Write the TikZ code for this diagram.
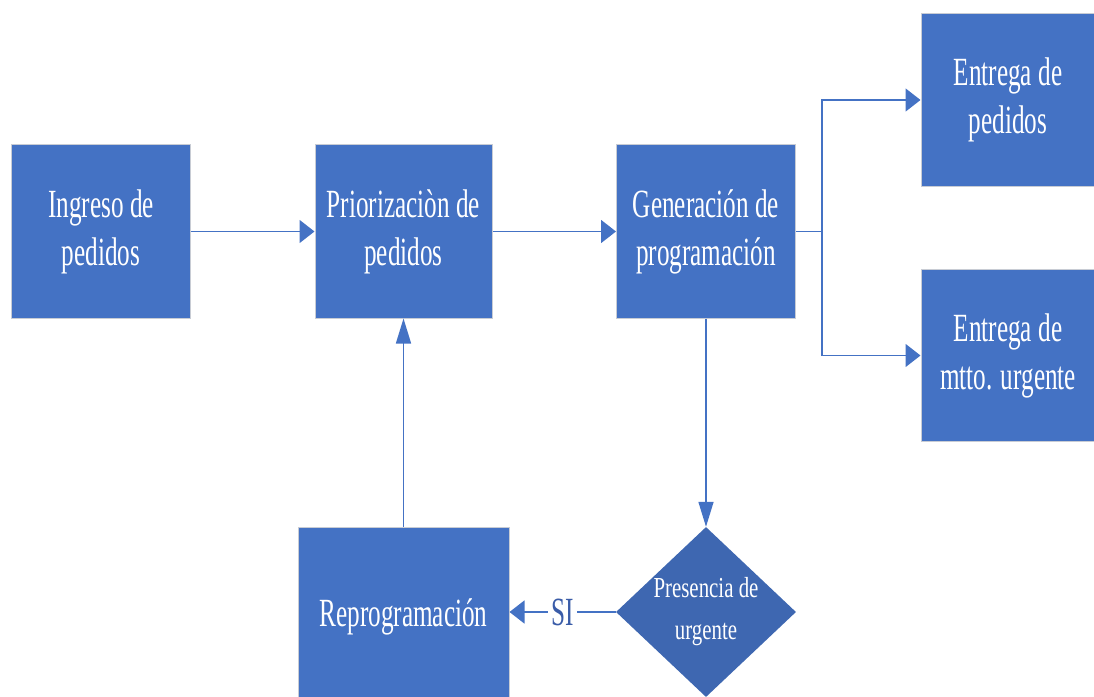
\documentclass[tikz,border=0pt]{standalone}
\usepackage{fontspec}
\usetikzlibrary{arrows.meta,shapes.geometric}
\setmainfont{Liberation Serif}
\newfontfamily\boxfont[FakeStretch=0.63]{Liberation Serif}
\newfontfamily\diafont[FakeStretch=0.72]{Liberation Serif}
\definecolor{boxblue}{HTML}{4472C4}
\definecolor{diablue}{HTML}{3E67B1}
\definecolor{edgegray}{HTML}{C8CCD4}
\definecolor{lineblue}{HTML}{4472C4}
\definecolor{sitext}{HTML}{3A5CA8}
\tikzset{
  procbox/.style={rectangle, fill=boxblue, draw=edgegray, line width=1bp,
    inner sep=0pt, text=white, align=center,
    font=\boxfont\fontsize{40bp}{48bp}\selectfont},
  decision/.style={diamond, fill=diablue, draw=none, inner sep=0pt,
    minimum width=180bp, minimum height=170bp},
  diatext/.style={text=white, align=center, inner sep=0pt,
    font=\diafont\fontsize{29bp}{42bp}\selectfont},
  link/.style={draw=lineblue, line width=1.5bp},
  harrow/.style={link, -{Triangle[length=15bp,width=23bp]}},
  varrow/.style={link, -{Triangle[length=25bp,width=15bp]}},
  branchlabel/.style={fill=white, text=sitext, inner sep=3bp,
    font=\boxfont\fontsize{40bp}{48bp}\selectfont}
}
\begin{document}
\begin{tikzpicture}[x=1bp,y=-1bp]
\useasboundingbox (0,0) rectangle (1094,697);
\clip (0,0) rectangle (1094,697);

% process boxes
\node[procbox, minimum width=178bp, minimum height=173bp] (ingreso) at (101,231.5)
  {Ingreso de\\pedidos};
\node[procbox, minimum width=177bp, minimum height=173bp] (prior) at (403.5,231.5)
  {Priorizaciòn de\\pedidos};
\node[procbox, minimum width=179bp, minimum height=173bp] (gen) at (706,231.5)
  {Generación de\\programación};
\node[procbox, minimum width=174bp, minimum height=172bp] (entped) at (1008,100)
  {Entrega de\\pedidos};
\node[procbox, minimum width=174bp, minimum height=171bp] (entmtto) at (1008,355.5)
  {Entrega de\\mtto. urgente};
\node[procbox, minimum width=211bp, minimum height=180bp] (reprog) at (403.5,617)
  {Reprogramación};

% decision
\node[decision] (urg) at (706,612) {};
\node[diatext] (urgtxt) at (urg.center) {Presencia de\\urgente};

% connectors
\coordinate (split) at (822,231.5);
\draw[harrow] (ingreso.east) -- (prior.west);
\draw[harrow] (prior.east) -- (gen.west);
\draw[link] (gen.east) -- (split);
\draw[harrow] (split) |- (entped.west);
\draw[harrow] (split) |- (entmtto.west);
\draw[varrow] (gen.south) -- (urg.north);
\draw[harrow] (urg.west) -- node[branchlabel] {SI} (reprog.east |- urg.west);
\draw[varrow] (reprog.north) -- (prior.south);
\end{tikzpicture}
\end{document}
